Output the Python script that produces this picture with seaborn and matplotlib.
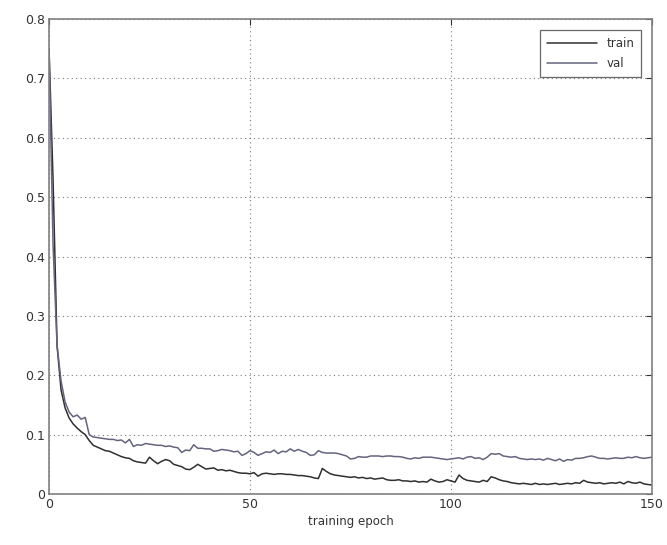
import numpy as np
import pandas as pd
import matplotlib
matplotlib.use('Agg')
import matplotlib.pyplot as plt
import seaborn as sns

# Loss per epoch
epochs = list(range(151))

train_loss = [
    0.750, 0.530, 0.250, 0.175, 0.145, 0.128, 0.118, 0.111, 0.105, 0.100,
    0.090, 0.082, 0.079, 0.076, 0.073, 0.072, 0.069, 0.066, 0.063, 0.061,
    0.060, 0.056, 0.054, 0.053, 0.052, 0.062, 0.056, 0.051, 0.055, 0.058,
    0.056, 0.050, 0.048, 0.046, 0.042, 0.041, 0.045, 0.050, 0.046, 0.042,
    0.043, 0.044, 0.040, 0.041, 0.039, 0.040, 0.038, 0.036, 0.035, 0.035,
    0.034, 0.036, 0.030, 0.034, 0.035, 0.034, 0.033, 0.034, 0.034, 0.033,
    0.033, 0.032, 0.031, 0.031, 0.030, 0.029, 0.027, 0.026, 0.043, 0.038,
    0.034, 0.032, 0.031, 0.030, 0.029, 0.028, 0.029, 0.027, 0.028, 0.026,
    0.027, 0.025, 0.026, 0.027, 0.024, 0.023, 0.023, 0.024, 0.022, 0.022,
    0.021, 0.022, 0.020, 0.021, 0.020, 0.025, 0.022, 0.020, 0.021, 0.024,
    0.022, 0.020, 0.032, 0.026, 0.023, 0.022, 0.021, 0.020, 0.023, 0.021,
    0.029, 0.027, 0.024, 0.022, 0.021, 0.019, 0.018, 0.017, 0.018, 0.017,
    0.016, 0.018, 0.016, 0.017, 0.016, 0.017, 0.018, 0.016, 0.017, 0.018,
    0.017, 0.019, 0.018, 0.023, 0.020, 0.019, 0.018, 0.019, 0.017, 0.018,
    0.019, 0.018, 0.020, 0.017, 0.021, 0.019, 0.018, 0.020, 0.017, 0.016,
    0.015,
]

val_loss = [
    0.750, 0.420, 0.250, 0.190, 0.155, 0.138, 0.130, 0.133, 0.126, 0.129,
    0.100, 0.096, 0.095, 0.094, 0.093, 0.092, 0.092, 0.090, 0.091, 0.086,
    0.092, 0.080, 0.083, 0.082, 0.085, 0.084, 0.083, 0.082, 0.082, 0.080,
    0.081, 0.079, 0.078, 0.070, 0.074, 0.073, 0.083, 0.077, 0.077, 0.076,
    0.076, 0.072, 0.073, 0.075, 0.074, 0.073, 0.071, 0.072, 0.065, 0.068,
    0.073, 0.070, 0.065, 0.068, 0.071, 0.070, 0.074, 0.068, 0.072, 0.071,
    0.076, 0.072, 0.075, 0.072, 0.070, 0.065, 0.066, 0.073, 0.070, 0.069,
    0.069, 0.069, 0.068, 0.066, 0.064, 0.059, 0.060, 0.063, 0.062, 0.062,
    0.064, 0.064, 0.064, 0.063, 0.064, 0.064, 0.063, 0.063, 0.062, 0.060,
    0.059, 0.061, 0.060, 0.062, 0.062, 0.062, 0.061, 0.060, 0.059, 0.058,
    0.059, 0.060, 0.061, 0.059, 0.062, 0.063, 0.060, 0.061, 0.058, 0.062,
    0.068, 0.067, 0.068, 0.064, 0.063, 0.062, 0.063, 0.060, 0.059, 0.058,
    0.059, 0.058, 0.059, 0.057, 0.060, 0.058, 0.056, 0.059, 0.055, 0.058,
    0.057, 0.060, 0.060, 0.061, 0.063, 0.064, 0.062, 0.060, 0.060, 0.059,
    0.060, 0.061, 0.060, 0.060, 0.062, 0.061, 0.063, 0.061, 0.060, 0.061,
    0.062,
]

series_names = ['train', 'val']
series_colors = ['#303030', '#64647e']

df = pd.DataFrame({
    'epoch': epochs * 2,
    'loss': train_loss + val_loss,
    'set': ['train'] * len(train_loss) + ['val'] * len(val_loss),
})

sns.set_style('white')
plt.rcParams['font.family'] = ['DejaVu Sans']

fig = plt.figure(figsize=(6.67, 5.45), dpi=100)
ax = fig.add_axes([0.0735, 0.0936, 0.904, 0.8714])

sns.lineplot(data=df, x='epoch', y='loss', hue='set', hue_order=series_names,
             palette=series_colors, linewidth=1.1, ax=ax)

ax.set_xlim(0, 150)
ax.set_ylim(0, 0.8)
ax.set_xticks([0, 50, 100, 150])
ax.set_yticks(np.arange(0, 0.81, 0.1))
ax.set_yticklabels(['0', '0.1', '0.2', '0.3', '0.4', '0.5', '0.6', '0.7', '0.8'])
ax.set_xlabel('training epoch', fontsize=8.5, color='#333333', labelpad=3)
ax.set_ylabel('')

ax.grid(True, linestyle=(0, (1, 3)), color='#7a7a7a', linewidth=0.8)
ax.tick_params(direction='in', length=4, top=True, right=True,
               labelsize=9, colors='#333333', pad=3)
for side in ax.spines.values():
    side.set_color('#808080')
    side.set_linewidth(1.2)

leg = ax.legend(loc='upper right', fontsize=8.5, frameon=True, fancybox=False,
                borderaxespad=0.9, handlelength=4.2, labelspacing=0.6,
                borderpad=0.6)
leg.get_frame().set_edgecolor('#444444')
leg.get_frame().set_linewidth(0.9)
for t in leg.get_texts():
    t.set_color('#333333')

fig.savefig('out.png', dpi=100)
